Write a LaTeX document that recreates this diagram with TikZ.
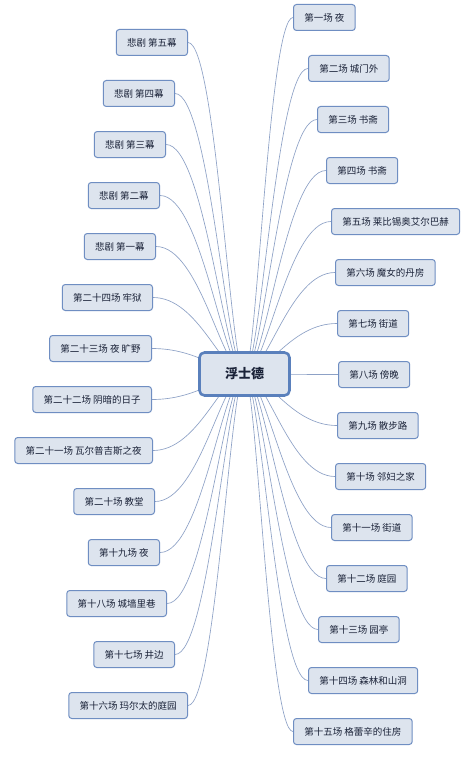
\documentclass[tikz,border=0pt]{standalone}
\usepackage{fontspec}
\newfontfamily\cjk{Noto Sans CJK SC}
\usetikzlibrary{backgrounds}
\definecolor{boxfill}{HTML}{DDE4EE}
\definecolor{boxline}{HTML}{6F8EC2}
\definecolor{rootline}{HTML}{5A80BC}
\definecolor{conncol}{HTML}{8DA1C6}
\definecolor{txt}{HTML}{1A2238}
\tikzset{
  leaf/.style={draw=boxline, fill=boxfill, line width=1pt, rounded corners=3pt,
    minimum height=26pt, inner xsep=10.8pt, inner ysep=0pt, text=txt,
    font=\cjk\fontsize{9.5}{11}\selectfont},
  lleaf/.style={leaf, anchor=east},
  rleaf/.style={leaf, anchor=west},
  root/.style={draw=rootline, fill=boxfill, line width=2.6pt, rounded corners=5pt,
    minimum width=90pt, minimum height=43pt, text=txt,
    font=\cjk\bfseries\fontsize{13}{15}\selectfont},
  conn/.style={draw=conncol, line width=0.65pt}
}
\begin{document}
\begin{tikzpicture}[x=1pt,y=-1pt]
\useasboundingbox (0,0) rectangle (469,765);
\node[root] (c) at (244.5,374) {浮士德};
% left side
\node[lleaf] (l1) at (188,42.5) {悲剧 第五幕};
\node[lleaf] (l2) at (175,93.5) {悲剧 第四幕};
\node[lleaf] (l3) at (166,144.5) {悲剧 第三幕};
\node[lleaf] (l4) at (160,195.5) {悲剧 第二幕};
\node[lleaf] (l5) at (156,246.5) {悲剧 第一幕};
\node[lleaf] (l6) at (153,297.5) {第二十四场 牢狱};
\node[lleaf] (l7) at (152,348.5) {第二十三场 夜 旷野};
\node[lleaf] (l8) at (152,399.5) {第二十二场 阴暗的日子};
\node[lleaf] (l9) at (153,450.5) {第二十一场 瓦尔普吉斯之夜};
\node[lleaf] (l10) at (155,501.5) {第二十场 教堂};
\node[lleaf] (l11) at (160,552.5) {第十九场 夜};
\node[lleaf] (l12) at (167,603.5) {第十八场 城墙里巷};
\node[lleaf] (l13) at (175,654.5) {第十七场 井边};
\node[lleaf] (l14) at (188,705.5) {第十六场 玛尔太的庭园};
% right side
\node[rleaf] (r1) at (293,17.5) {第一场 夜};
\node[rleaf] (r2) at (308,68.5) {第二场 城门外};
\node[rleaf] (r3) at (317,119.5) {第三场 书斋};
\node[rleaf] (r4) at (326,170.5) {第四场 书斋};
\node[rleaf] (r5) at (331,221.5) {第五场 莱比锡奥艾尔巴赫};
\node[rleaf] (r6) at (335,272.5) {第六场 魔女的丹房};
\node[rleaf] (r7) at (337,323.5) {第七场 街道};
\node[rleaf] (r8) at (338,374.5) {第八场 傍晚};
\node[rleaf] (r9) at (337,425.5) {第九场 散步路};
\node[rleaf] (r10) at (335,476.5) {第十场 邻妇之家};
\node[rleaf] (r11) at (331,527.5) {第十一场 街道};
\node[rleaf] (r12) at (326,578.5) {第十二场 庭园};
\node[rleaf] (r13) at (318,629.5) {第十三场 园亭};
\node[rleaf] (r14) at (308,680.5) {第十四场 森林和山洞};
\node[rleaf] (r15) at (293,731.5) {第十五场 格蕾辛的住房};
\begin{scope}[on background layer]
\fill[white] (0,0) rectangle (469,765);
\draw[conn] (c.center) .. controls +(-14.1,0) and +(28.25,0) .. (l1.east);
\draw[conn] (c.center) .. controls +(-17.4,0) and +(34.75,0) .. (l2.east);
\draw[conn] (c.center) .. controls +(-19.6,0) and +(39.25,0) .. (l3.east);
\draw[conn] (c.center) .. controls +(-21.1,0) and +(42.25,0) .. (l4.east);
\draw[conn] (c.center) .. controls +(-22.1,0) and +(44.25,0) .. (l5.east);
\draw[conn] (c.center) .. controls +(-22.9,0) and +(45.75,0) .. (l6.east);
\draw[conn] (c.center) .. controls +(-23.1,0) and +(46.25,0) .. (l7.east);
\draw[conn] (c.center) .. controls +(-23.1,0) and +(46.25,0) .. (l8.east);
\draw[conn] (c.center) .. controls +(-22.9,0) and +(45.75,0) .. (l9.east);
\draw[conn] (c.center) .. controls +(-22.4,0) and +(44.75,0) .. (l10.east);
\draw[conn] (c.center) .. controls +(-21.1,0) and +(42.25,0) .. (l11.east);
\draw[conn] (c.center) .. controls +(-19.4,0) and +(38.75,0) .. (l12.east);
\draw[conn] (c.center) .. controls +(-17.4,0) and +(34.75,0) .. (l13.east);
\draw[conn] (c.center) .. controls +(-14.1,0) and +(28.25,0) .. (l14.east);
\draw[conn] (c.center) .. controls +(12.1,0) and +(-24.25,0) .. (r1.west);
\draw[conn] (c.center) .. controls +(15.9,0) and +(-31.75,0) .. (r2.west);
\draw[conn] (c.center) .. controls +(18.1,0) and +(-36.25,0) .. (r3.west);
\draw[conn] (c.center) .. controls +(20.4,0) and +(-40.75,0) .. (r4.west);
\draw[conn] (c.center) .. controls +(21.6,0) and +(-43.25,0) .. (r5.west);
\draw[conn] (c.center) .. controls +(22.6,0) and +(-45.25,0) .. (r6.west);
\draw[conn] (c.center) .. controls +(23.1,0) and +(-46.25,0) .. (r7.west);
\draw[conn] (c.center) .. controls +(23.4,0) and +(-46.75,0) .. (r8.west);
\draw[conn] (c.center) .. controls +(23.1,0) and +(-46.25,0) .. (r9.west);
\draw[conn] (c.center) .. controls +(22.6,0) and +(-45.25,0) .. (r10.west);
\draw[conn] (c.center) .. controls +(21.6,0) and +(-43.25,0) .. (r11.west);
\draw[conn] (c.center) .. controls +(20.4,0) and +(-40.75,0) .. (r12.west);
\draw[conn] (c.center) .. controls +(18.4,0) and +(-36.75,0) .. (r13.west);
\draw[conn] (c.center) .. controls +(15.9,0) and +(-31.75,0) .. (r14.west);
\draw[conn] (c.center) .. controls +(12.1,0) and +(-24.25,0) .. (r15.west);
\end{scope}
\end{tikzpicture}
\end{document}
